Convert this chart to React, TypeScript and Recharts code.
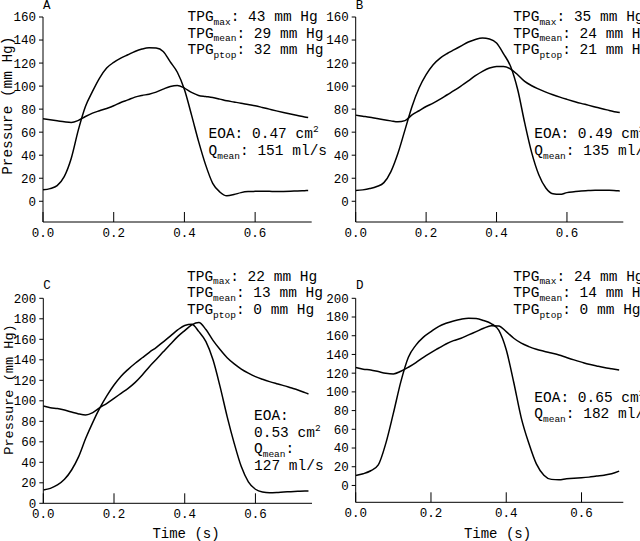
import React from 'react';
import { LineChart, Line, XAxis, YAxis, Customized } from 'recharts';

const MONO = '"Liberation Mono", "Courier New", monospace';

const TIME_075 = [0, 0.02, 0.04, 0.06, 0.08, 0.1, 0.12, 0.14, 0.16, 0.18, 0.2, 0.22, 0.24, 0.26, 0.28, 0.3, 0.32, 0.34, 0.36, 0.38, 0.4, 0.42, 0.44, 0.46, 0.48, 0.5, 0.52, 0.54, 0.56, 0.58, 0.6, 0.62, 0.64, 0.66, 0.68, 0.7, 0.72, 0.74, 0.75];
const TIME_070 = [0, 0.02, 0.04, 0.06, 0.08, 0.1, 0.12, 0.14, 0.16, 0.18, 0.2, 0.22, 0.24, 0.26, 0.28, 0.3, 0.32, 0.34, 0.36, 0.38, 0.4, 0.42, 0.44, 0.46, 0.48, 0.5, 0.52, 0.54, 0.56, 0.58, 0.6, 0.62, 0.64, 0.66, 0.68, 0.7];

// Panel A
const LV_A = [9.9, 11, 13.6, 21.4, 37.4, 62, 82.3, 95.4, 107, 115.7, 120.6, 124.3, 127.2, 130.1, 132.2, 133.3, 133, 130, 121, 112, 97, 75, 52, 31.6, 15.6, 8.1, 4.8, 5.8, 7.5, 8.4, 8.6, 8.7, 8.6, 8.4, 8.5, 8.7, 9, 9.2, 9.3];
const AO_A = [71.6, 70.7, 69.9, 69, 68.4, 70.2, 73.6, 76.5, 78.6, 80.6, 82.9, 85.8, 88, 90.4, 91.9, 93, 94.8, 97.4, 99.7, 100.6, 98.3, 94.5, 91.9, 91, 90.1, 88.7, 87.2, 86.2, 85.2, 84, 82.9, 81.5, 80, 78.5, 77.1, 75.8, 74.5, 73.2, 72.8];
// Panel B
const LV_B = [9.3, 9.9, 11, 12.8, 16.2, 25.8, 41.7, 62, 82.3, 98.3, 109.9, 118.6, 124.3, 128.3, 131.6, 135, 138.3, 140.5, 141.7, 140.9, 137.4, 128, 117, 97, 68, 42, 23, 11.5, 6.5, 6, 7.5, 8.3, 9, 9.3, 9.6, 9.6, 9.6, 9.2, 9];
const AO_B = [74.8, 73.9, 73, 71.8, 70.7, 69.8, 69, 70, 75, 78.6, 82.3, 85.2, 88.7, 92.5, 96.2, 100.3, 104.6, 109, 112.8, 115.7, 117.1, 117.1, 114.8, 109.9, 104.1, 100.3, 97.4, 94.8, 92.5, 90.4, 88.5, 86.7, 85, 83.5, 81.9, 80.3, 78.9, 77.5, 77.1];
// Panel C
const LV_C = [13, 14.6, 17.9, 23.4, 32.5, 45.5, 63.4, 79, 93, 105, 115.4, 124, 130.7, 136.6, 142, 147.3, 152.2, 157.7, 163.3, 169.1, 173.5, 174.6, 167.5, 157.7, 140, 113.8, 84.6, 58.5, 35.8, 21, 13.7, 11, 10.4, 10.6, 11, 11.3, 11.7, 12, 12];
const AO_C = [95, 93.3, 92.4, 91, 89, 87.2, 86.2, 88.5, 93.3, 97.6, 102.4, 107.3, 112.2, 118, 125.2, 133.3, 140.5, 148, 155.4, 162.6, 168.5, 174, 176.3, 169.5, 159, 150, 142, 136, 131, 127, 123.6, 121, 118.7, 116.7, 114.8, 112.7, 110.6, 108, 106.7];
// Panel D
const LV_D = [10.7, 12.5, 15.7, 22, 45, 77, 111, 137, 150, 158.5, 164.4, 169.8, 173.3, 175.8, 177.6, 178.6, 178.3, 176.2, 173, 166, 145, 110, 72, 45, 23, 11, 6.5, 6, 7.1, 7.8, 8.2, 8.9, 10, 11, 12.5, 15.3];
const AO_D = [126, 124.2, 123.5, 121.7, 119.9, 119.2, 122, 126.3, 131.3, 137, 142, 146.6, 151.2, 154.8, 157.3, 160.9, 164.4, 168, 170.8, 170.5, 164.4, 157.3, 152, 148.4, 145.5, 143.4, 141.5, 139.5, 136.8, 134.2, 131.8, 129.5, 127.7, 126, 124.7, 123.5];

const X_TICKS = [0, 0.2, 0.4, 0.6];
const Y_TICKS_160 = [0, 20, 40, 60, 80, 100, 120, 140, 160];
const Y_TICKS_200 = [0, 20, 40, 60, 80, 100, 120, 140, 160, 180, 200];

const Y_LABEL = 'Pressure (mm Hg)';
const X_LABEL = 'Time (s)';

type Seg = { t: string; k?: 'sub' | 'sup' };
type Ann = { x: number; y: number; segs: Seg[] };

const tpg = (max: string, mean: string, ptop: string, x: number, ys: number[]): Ann[] => [
  { x, y: ys[0], segs: [{ t: 'TPG' }, { t: 'max', k: 'sub' }, { t: `: ${max} mm Hg` }] },
  { x, y: ys[1], segs: [{ t: 'TPG' }, { t: 'mean', k: 'sub' }, { t: `: ${mean} mm Hg` }] },
  { x, y: ys[2], segs: [{ t: 'TPG' }, { t: 'ptop', k: 'sub' }, { t: `: ${ptop} mm Hg` }] },
];

const ANN_A: Ann[] = [
  ...tpg('43', '29', '32', 187.5, [21, 37.7, 54.3]),
  { x: 208.5, y: 138.3, segs: [{ t: 'EOA: 0.47 cm' }, { t: '2', k: 'sup' }] },
  { x: 208.5, y: 155, segs: [{ t: 'Q' }, { t: 'mean', k: 'sub' }, { t: ': 151 ml/s' }] },
];
const ANN_B: Ann[] = [
  ...tpg('35', '24', '21', 193.3, [21, 37.7, 54.3]),
  { x: 214.3, y: 138.3, segs: [{ t: 'EOA: 0.49 cm' }, { t: '2', k: 'sup' }] },
  { x: 214.3, y: 155, segs: [{ t: 'Q' }, { t: 'mean', k: 'sub' }, { t: ': 135 ml/s' }] },
];
const ANN_C: Ann[] = [
  ...tpg('22', '13', '0', 187, [10.7, 27.3, 44]),
  { x: 254, y: 150, segs: [{ t: 'EOA:' }] },
  { x: 254, y: 166.5, segs: [{ t: '0.53 cm' }, { t: '2', k: 'sup' }] },
  { x: 254, y: 183.3, segs: [{ t: 'Q' }, { t: 'mean', k: 'sub' }, { t: ':' }] },
  { x: 254, y: 199.5, segs: [{ t: '127 ml/s' }] },
];
const ANN_D: Ann[] = [
  ...tpg('24', '14', '0', 193.3, [10.7, 27.3, 44]),
  { x: 214.3, y: 131.7, segs: [{ t: 'EOA: 0.65 cm' }, { t: '2', k: 'sup' }] },
  { x: 214.3, y: 148.3, segs: [{ t: 'Q' }, { t: 'mean', k: 'sub' }, { t: ': 182 ml/s' }] },
];

const RichText = ({ x, y, segs, size = 14.5 }: { x: number; y: number; segs: Seg[]; size?: number }) => {
  let shift = 0;
  const spans = segs.map((s, i) => {
    const target = s.k === 'sub' ? 3.5 : s.k === 'sup' ? -6 : 0;
    const dy = target - shift;
    shift = target;
    return (
      <tspan key={i} dy={dy} fontSize={s.k ? 9.5 : size}>
        {s.t}
      </tspan>
    );
  });
  return (
    <text x={x} y={y} fontFamily={MONO} fontSize={size} fill="#000">
      {spans}
    </text>
  );
};

const XTick = (props: any) => {
  const { x, y, payload } = props;
  return (
    <g>
      <line x1={x} x2={x} y1={y} y2={y - 10} stroke="#000" strokeWidth={1} />
      <text x={x} y={y + 15} textAnchor="middle" fontFamily={MONO} fontSize={12.5} fill="#000">
        {Number(payload.value).toFixed(1)}
      </text>
    </g>
  );
};

type PanelProps = {
  left: number;
  top: number;
  width: number;
  height: number;
  times: number[];
  lv: number[];
  ao: number[];
  letter: string;
  letterPos: [number, number];
  margin: { top: number; right: number; left: number; bottom: number };
  yWidth: number;
  xHeight: number;
  yDomain: [number, number];
  yTicks: number[];
  xDomain: [number, number];
  ann: Ann[];
  yLabel?: { x: number; y: number; size: number };
  xLabel?: { x: number; y: number; size: number };
};

const Overlay = ({ p }: { p: PanelProps }) => (
  <g>
    <text x={p.letterPos[0]} y={p.letterPos[1]} fontFamily={MONO} fontSize={12.5} fill="#000">
      {p.letter}
    </text>
    {p.ann.map((a, i) => (
      <RichText key={i} x={a.x} y={a.y} segs={a.segs} />
    ))}
    {p.yLabel && (
      <text
        x={p.yLabel.x}
        y={p.yLabel.y}
        transform={`rotate(-90 ${p.yLabel.x} ${p.yLabel.y})`}
        textAnchor="middle"
        fontFamily={MONO}
        fontSize={p.yLabel.size}
        fill="#000"
      >
        {Y_LABEL}
      </text>
    )}
    {p.xLabel && (
      <text x={p.xLabel.x} y={p.xLabel.y} textAnchor="middle" fontFamily={MONO} fontSize={p.xLabel.size} fill="#000">
        {X_LABEL}
      </text>
    )}
  </g>
);

const Panel = (p: PanelProps) => {
  const data = p.times.map((t, i) => ({ t, lv: p.lv[i], ao: p.ao[i] }));
  return (
    <div style={{ position: 'absolute', left: p.left, top: p.top, width: p.width, height: p.height }}>
      <LineChart width={p.width} height={p.height} data={data} margin={p.margin} style={{ overflow: 'visible' }}>
        <XAxis
          dataKey="t"
          type="number"
          domain={p.xDomain}
          ticks={X_TICKS}
          interval={0}
          allowDataOverflow
          height={p.xHeight}
          axisLine={{ stroke: '#000', strokeWidth: 1 }}
          tickLine={false}
          tickSize={0}
          tickMargin={0}
          tick={<XTick />}
        />
        <YAxis
          type="number"
          domain={p.yDomain}
          ticks={p.yTicks}
          interval={0}
          allowDataOverflow
          width={p.yWidth}
          axisLine={{ stroke: '#000', strokeWidth: 1 }}
          tickLine={{ stroke: '#000', strokeWidth: 1 }}
          tickSize={4}
          tickMargin={3}
          tick={{ fontSize: 12.5, fontFamily: MONO, fill: '#000' }}
        />
        <Line type="monotone" dataKey="ao" stroke="#000" strokeWidth={1.5} dot={false} isAnimationActive={false} />
        <Line type="monotone" dataKey="lv" stroke="#000" strokeWidth={1.5} dot={false} isAnimationActive={false} />
        <Customized component={<Overlay p={p} />} />
      </LineChart>
    </div>
  );
};

export default function App() {
  return (
    <div
      style={{
        position: 'absolute',
        left: 0,
        top: 0,
        width: 640,
        height: 541,
        overflow: 'hidden',
        background: '#fff',
      }}
    >
      <Panel
        left={0}
        top={0}
        width={340}
        height={270}
        times={TIME_075}
        lv={LV_A}
        ao={AO_A}
        letter="A"
        letterPos={[43, 8.5]}
        margin={{ top: 17, right: 28.3, left: 0, bottom: 0 }}
        yWidth={43}
        xHeight={48}
        yDomain={[-18, 160]}
        yTicks={Y_TICKS_160}
        xDomain={[0, 0.76]}
        ann={ANN_A}
        yLabel={{ x: 12.5, y: 105.7, size: 14.4 }}
      />
      <Panel
        left={320}
        top={0}
        width={320}
        height={270}
        times={TIME_075}
        lv={LV_B}
        ao={AO_B}
        letter="B"
        letterPos={[35.7, 8.5]}
        margin={{ top: 17, right: 16.7, left: 0, bottom: 0 }}
        yWidth={35.7}
        xHeight={48}
        yDomain={[-18, 160]}
        yTicks={Y_TICKS_160}
        xDomain={[0, 0.76]}
        ann={ANN_B}
      />
      <Panel
        left={0}
        top={270}
        width={340}
        height={271}
        times={TIME_075}
        lv={LV_C}
        ao={AO_C}
        letter="C"
        letterPos={[43.3, 19.3]}
        margin={{ top: 28.3, right: 28, left: 0, bottom: 0 }}
        yWidth={43.3}
        xHeight={37.7}
        yDomain={[0, 200]}
        yTicks={Y_TICKS_200}
        xDomain={[0, 0.76]}
        ann={ANN_C}
        yLabel={{ x: 12.8, y: 119.5, size: 13.6 }}
        xLabel={{ x: 186, y: 268, size: 14 }}
      />
      <Panel
        left={320}
        top={270}
        width={320}
        height={271}
        times={TIME_070}
        lv={LV_D}
        ao={AO_D}
        letter="D"
        letterPos={[36, 19.3]}
        margin={{ top: 28.3, right: 16.7, left: 0, bottom: 0 }}
        yWidth={35.7}
        xHeight={38.7}
        yDomain={[-18, 200]}
        yTicks={Y_TICKS_200}
        xDomain={[0, 0.711]}
        ann={ANN_D}
        xLabel={{ x: 177.5, y: 268, size: 14 }}
      />
    </div>
  );
}
